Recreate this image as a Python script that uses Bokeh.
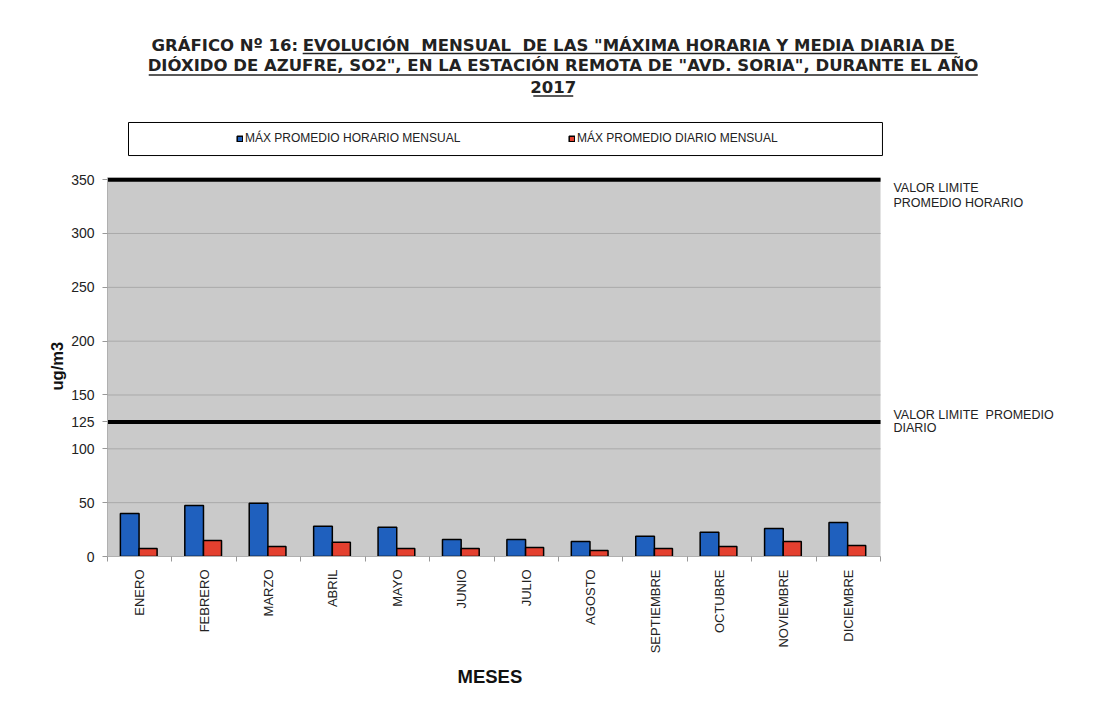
from bokeh.plotting import figure
from bokeh.models import (Range1d, FixedTicker, Label, BoxAnnotation,
                          Legend, LegendItem, ColumnDataSource, Title)
from bokeh.transform import dodge
from bokeh.embed import file_html
from bokeh.resources import INLINE
import math

# ---------------- data ----------------
meses = ["ENERO", "FEBRERO", "MARZO", "ABRIL", "MAYO", "JUNIO", "JULIO",
         "AGOSTO", "SEPTIEMBRE", "OCTUBRE", "NOVIEMBRE", "DICIEMBRE"]
max_horario = [40, 47.4, 49.5, 28, 27.2, 15.8, 15.8, 13.9, 18.9, 22.6, 26, 31.6]
max_diario = [7.4, 14.9, 9.3, 13.3, 7.4, 7.4, 8.4, 5.6, 7.4, 9.3, 13.9, 10.2]
limite_horario = 350
limite_diario = 125
y_ticks = [0, 50, 100, 150, 200, 250, 300, 350]

FONT = "Liberation Sans"
TFONT = "DejaVu Sans"
BLUE = "#1f60be"
RED = "#e4402f"
n = len(meses)
xc = [i + 0.5 for i in range(n)]

src = ColumnDataSource(dict(x=xc, mes=meses, horario=max_horario, diario=max_diario))

W, H = 1110, 700
p = figure(x_range=Range1d(0, 15.57), y_range=Range1d(0, 516.4), width=W, height=H,
           output_backend="svg", toolbar_location=None,
           min_border_left=107, min_border_right=0, min_border_top=0,
           min_border_bottom=144,
           background_fill_color="white", border_fill_color="white",
           outline_line_color=None)
p.xgrid.grid_line_color = None
p.ygrid.grid_line_color = None

# plot area background
p.add_layout(BoxAnnotation(left=0, right=n, bottom=0, top=352, fill_color="#cacaca",
                           fill_alpha=1, line_color=None, level="underlay"))
# horizontal grid lines
p.segment(x0=[0] * len(y_ticks), x1=[n] * len(y_ticks), y0=y_ticks, y1=y_ticks,
          line_color="#a9a9a9", line_width=1)

r1 = p.vbar(x=dodge("x", -0.155), top="horario", width=0.29,
            source=src, fill_color=BLUE, line_color="black", line_width=1.5)
r2 = p.vbar(x=dodge("x", 0.13), top="diario", width=0.28,
            source=src, fill_color=RED, line_color="black", line_width=1.5)

# limit lines
p.segment(x0=[0, -0.1], x1=[n, n], y0=[limite_horario, limite_diario],
          y1=[limite_horario, limite_diario], line_color="black", line_width=4)

# y axis
p.yaxis.ticker = FixedTicker(ticks=y_ticks + [limite_diario])
p.yaxis.bounds = (0, 352)
p.yaxis.major_label_text_font = FONT
p.yaxis.major_label_text_font_size = "14px"
p.yaxis.major_label_text_color = "#222"
p.yaxis.axis_line_color = "#b0b0b0"
p.yaxis.major_tick_line_color = "#999999"
p.yaxis.major_tick_out = 5
p.yaxis.major_tick_in = 0
p.yaxis.minor_tick_line_color = None
p.yaxis.major_label_standoff = 8

# x axis
p.xaxis.ticker = FixedTicker(ticks=xc, minor_ticks=list(range(n + 1)))
p.xaxis.major_label_overrides = {x: m for x, m in zip(xc, meses)}
p.xaxis.bounds = (0, n)
p.xaxis.major_label_orientation = math.pi / 2
p.xaxis.major_label_text_font = FONT
p.xaxis.major_label_text_font_size = "13px"
p.xaxis.major_label_text_color = "#222"
p.xaxis.major_tick_line_color = None
p.xaxis.minor_tick_line_color = "#999999"
p.xaxis.minor_tick_out = 5
p.xaxis.minor_tick_in = 0
p.xaxis.axis_line_color = "#b0b0b0"
p.xaxis.major_label_standoff = 7

# axis titles (placed in the side panels)
p.add_layout(Title(text="MESES", align="left", offset=350, standoff=15,
                   text_font=FONT, text_font_style="bold", text_font_size="18.5px",
                   text_color="#111"), "below")
p.add_layout(Title(text="ug/m3", align="left", offset=166, standoff=6,
                   text_font=FONT, text_font_style="bold", text_font_size="16.5px",
                   text_color="#111"), "left")

# right side annotations
for txt, yy in [("VALOR LIMITE", 348.3), ("PROMEDIO HORARIO", 334.4),
                ("VALOR LIMITE\u00a0 PROMEDIO", 137.5), ("DIARIO", 125.4)]:
    p.add_layout(Label(x=12.2, y=yy, text=txt, text_align="left", text_baseline="top",
                       text_font=FONT, text_font_size="12.5px", text_color="#222"))

# title
tstyle = dict(text_font=TFONT, text_font_style="bold", text_font_size="16.5px",
              text_color="#222", text_baseline="alphabetic")
p.add_layout(Label(x=2.96, y=474.6, text="GRÁFICO Nº 16:", text_align="right", **tstyle))
p.add_layout(Label(x=3.03, y=474.6,
                   text="EVOLUCIÓN\u00a0 MENSUAL\u00a0 DE LAS \"MÁXIMA HORARIA Y MEDIA DIARIA DE",
                   text_align="left", **tstyle))
p.add_layout(Label(x=7.07, y=456.4,
                   text="DIÓXIDO DE AZUFRE, SO2\", EN LA ESTACIÓN REMOTA DE \"AVD. SORIA\", DURANTE EL AÑO",
                   text_align="center", **tstyle))
p.add_layout(Label(x=6.92, y=436.5, text="2017", text_align="center", **tstyle))
p.segment(x0=[3.03, 0.64, 6.61], x1=[13.195, 13.51, 7.23], y0=[467.2, 447.2, 427.7],
          y1=[467.2, 447.2, 427.7], line_color="#222", line_width=1.5)

# legend box + legend
p.add_layout(BoxAnnotation(left=0.326, right=12.03, top=403.1, bottom=372.4,
                           fill_color="white", fill_alpha=1, line_color="black",
                           line_width=1, line_alpha=1))
legend = Legend(items=[LegendItem(label="MÁX PROMEDIO HORARIO MENSUAL", renderers=[r1]),
                       LegendItem(label="MÁX PROMEDIO DIARIO MENSUAL", renderers=[r2])],
                location=(129, 411), orientation="horizontal",
                background_fill_alpha=0, border_line_color=None,
                padding=0, spacing=0, margin=0, label_width=323,
                glyph_width=7, glyph_height=7, label_standoff=2,
                label_text_font=FONT, label_text_font_size="12px",
                label_text_color="#222")
p.add_layout(legend)

open("out.html", "w").write(file_html(p, INLINE))
